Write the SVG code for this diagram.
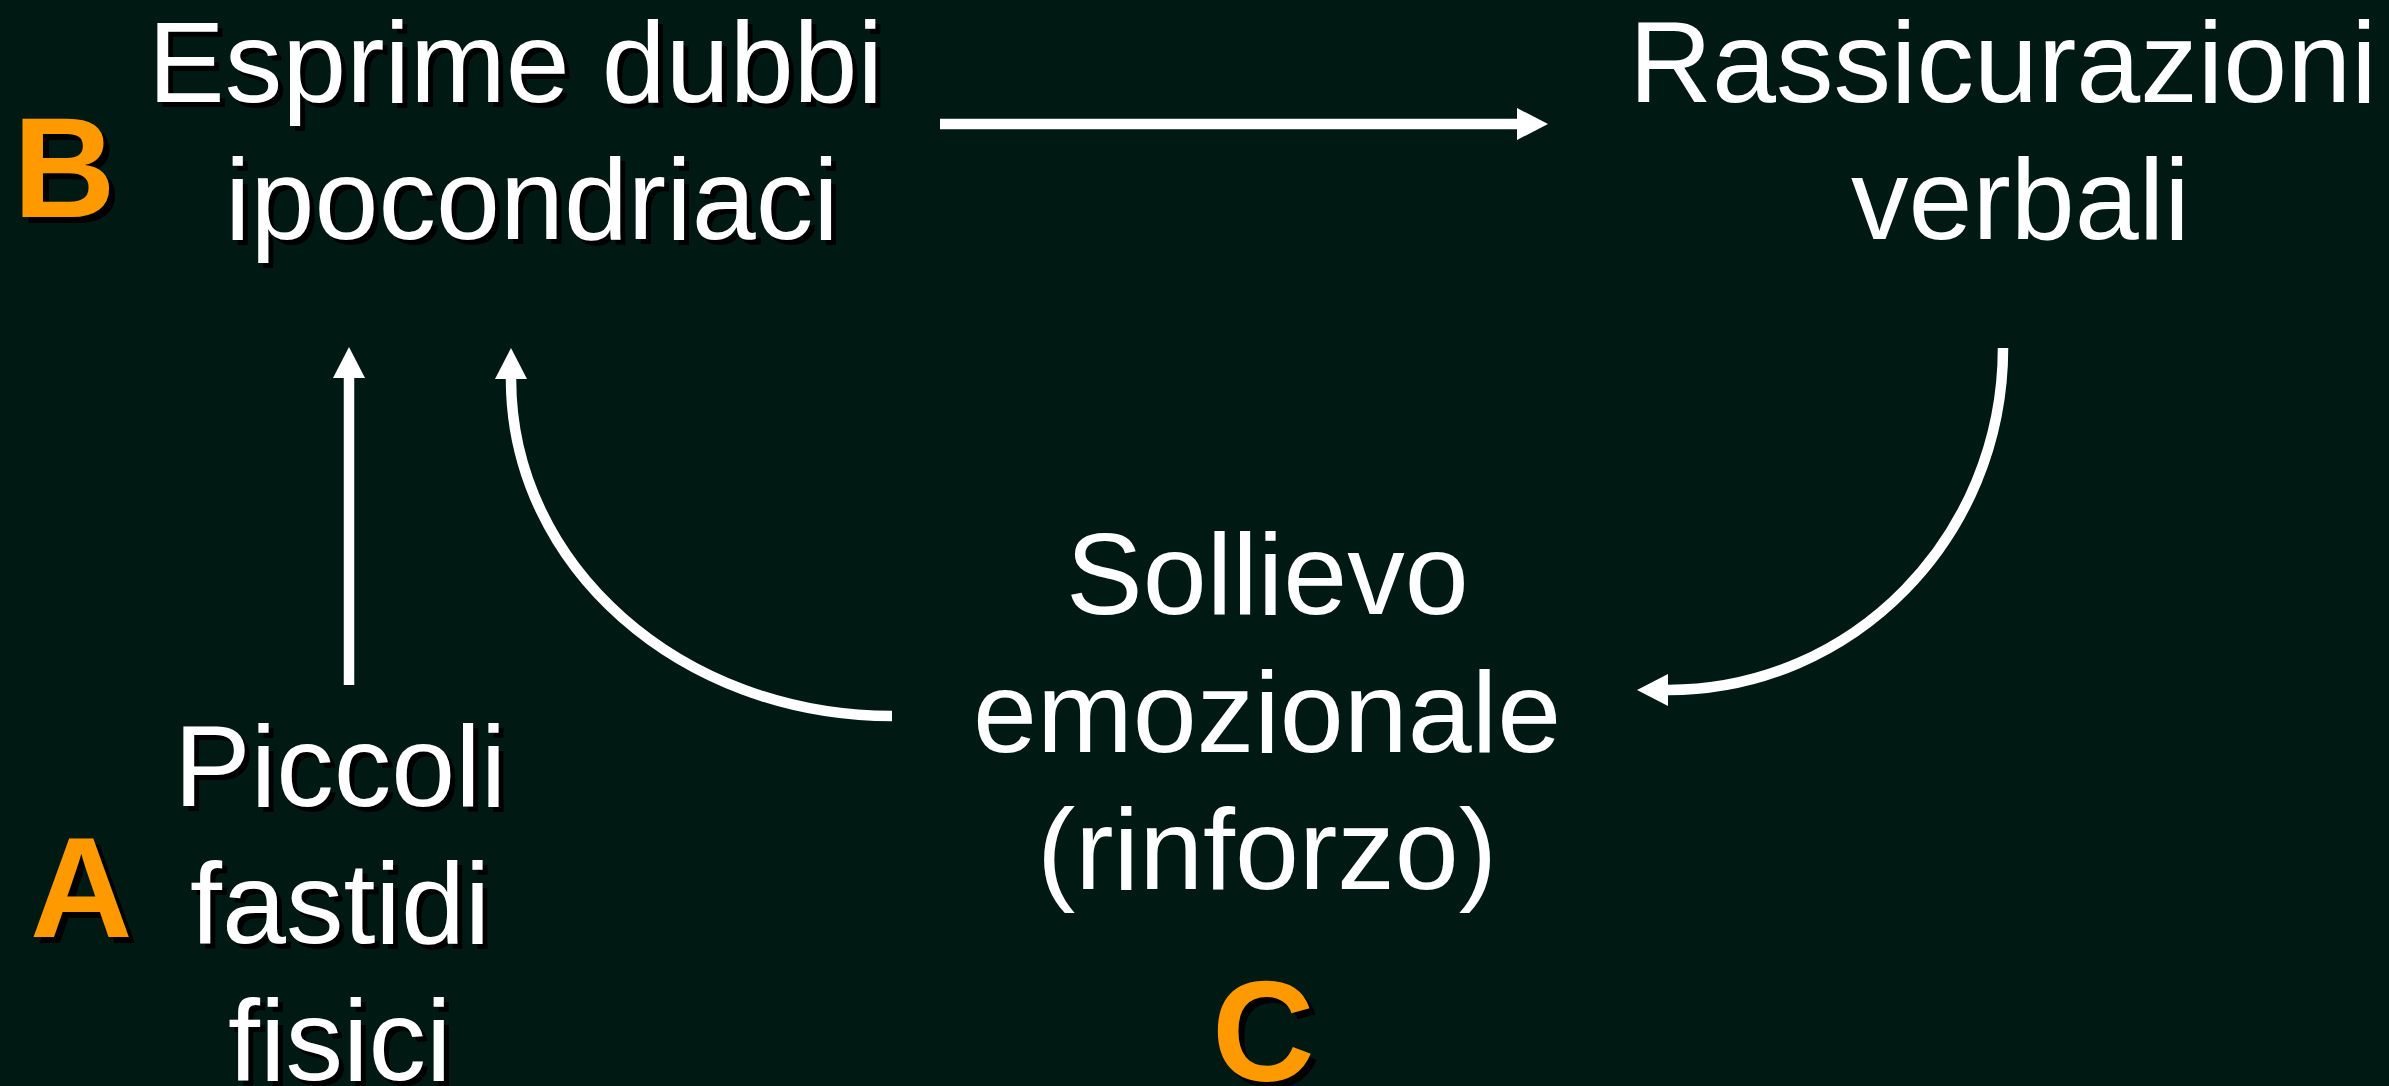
<svg xmlns="http://www.w3.org/2000/svg" xmlns:xlink="http://www.w3.org/1999/xlink" width="2389" height="1086" viewBox="0 0 2389 1086">
  <style>
    .txt { font-family: "Liberation Sans", Arial, sans-serif; font-size: 115px; }
    .tag { font-family: "Liberation Sans", Arial, sans-serif; font-size: 142px; font-weight: bold; }
    .white { fill: #ffffff; }
    .orange { fill: #ff9900; }
    .shadow { fill: #000000; }
    .conn { fill: none; stroke: #ffffff; stroke-width: 10.5; }
  </style>
  <defs>
    <marker id="head" markerUnits="userSpaceOnUse" markerWidth="34" markerHeight="34" refX="0" refY="16" orient="auto" overflow="visible">
      <path d="M0,0 L31,16 L0,32 Z" fill="#ffffff"/>
    </marker>
    <!-- glyph runs reused for the drop-shadowed labels -->
    <text id="t-esprime" class="txt"><tspan x="148" y="102">Esprime dubbi</tspan><tspan x="225" y="239">ipocondriaci</tspan></text>
    <text id="t-piccoli" class="txt"><tspan x="174" y="806">Piccoli</tspan><tspan x="190" y="943">fastidi</tspan><tspan x="228" y="1080">fisici</tspan></text>
    <text id="t-b" class="tag" x="13" y="217">B</text>
    <text id="t-a" class="tag" x="30" y="937">A</text>
    <text id="t-c" class="tag" x="1212" y="1081">C</text>
  </defs>

  <rect width="2389" height="1086" fill="#011913"/>

  <g id="connectors">
    <path class="conn" d="M940,124 L1517,124" marker-end="url(#head)"/>
    <path class="conn" d="M349,685 L349,378" marker-end="url(#head)"/>
    <path class="conn" d="M2003,348 C2003,537 1853,690 1668,690" marker-end="url(#head)"/>
    <path class="conn" d="M892,716 C681,716 511,566 511,379" marker-end="url(#head)"/>
  </g>

  <g id="node-b">
    <use xlink:href="#t-b" class="shadow" transform="translate(6,6)"/>
    <use xlink:href="#t-b" class="orange"/>
  </g>

  <g id="node-esprime">
    <use xlink:href="#t-esprime" class="shadow" transform="translate(5,5)"/>
    <use xlink:href="#t-esprime" class="white"/>
  </g>

  <g id="node-rassicurazioni">
    <text class="txt white"><tspan x="1629" y="102">Rassicurazioni</tspan><tspan x="1851" y="239">verbali</tspan></text>
  </g>

  <g id="node-sollievo">
    <text class="txt white"><tspan x="1066" y="614">Sollievo</tspan><tspan x="973" y="752">emozionale</tspan><tspan x="1037" y="889">(rinforzo)</tspan></text>
  </g>

  <g id="node-piccoli">
    <use xlink:href="#t-piccoli" class="shadow" transform="translate(5,5)"/>
    <use xlink:href="#t-piccoli" class="white"/>
  </g>

  <g id="node-a">
    <use xlink:href="#t-a" class="shadow" transform="translate(6,6)"/>
    <use xlink:href="#t-a" class="orange"/>
  </g>

  <g id="node-c">
    <use xlink:href="#t-c" class="shadow" transform="translate(6,6)"/>
    <use xlink:href="#t-c" class="orange"/>
  </g>
</svg>
